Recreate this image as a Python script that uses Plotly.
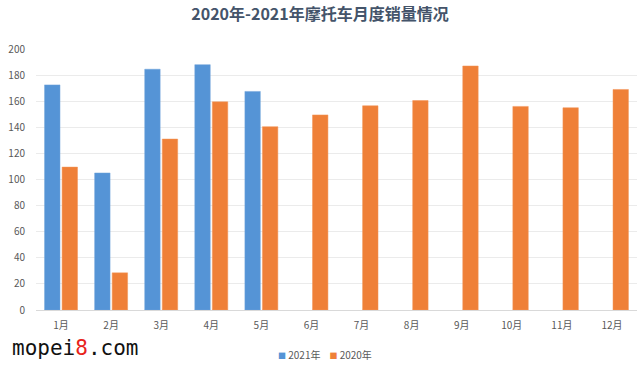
import plotly.graph_objects as go

months = ["1月", "2月", "3月", "4月", "5月", "6月", "7月", "8月", "9月", "10月", "11月", "12月"]
sales_2021 = [172.5, 105, 184.5, 188, 167.5, None, None, None, None, None, None, None]
sales_2020 = [109.5, 28.5, 131, 159.5, 140.5, 149.5, 156.5, 160.5, 187, 156, 155, 169]
y_ticks = [0, 20, 40, 60, 80, 100, 120, 140, 160, 180, 200]
series_names = ["2021年", "2020年"]
series_colors = ["#5594D6", "#EF8038"]

FONT = "Noto Sans CJK SC, Open Sans, sans-serif"

fig = go.Figure()
fig.add_trace(go.Bar(
    x=months, y=sales_2021, name=series_names[0],
    marker=dict(color=series_colors[0], line=dict(color="#6FA3DB", width=0.5)),
))
fig.add_trace(go.Bar(
    x=months, y=sales_2020, name=series_names[1],
    marker=dict(color=series_colors[1], line=dict(color="#F39459", width=0.5)),
))

fig.update_layout(
    width=640, height=368,
    margin=dict(l=36, r=3, t=49, b=58, autoexpand=False),
    paper_bgcolor="white", plot_bgcolor="white",
    barmode="group", bargap=0.3, bargroupgap=0.12,
    font=dict(family=FONT, size=10, color="#595959"),
    title=dict(text="<b>2020年-2021年摩托车月度销量情况</b>", x=0.5, xanchor="center",
               yref="container", y=0.96, yanchor="middle",
               font=dict(size=16, color="#44546A", family=FONT)),
    showlegend=False,
    xaxis=dict(showgrid=False, showline=True, linecolor="#D9D9D9", ticks="",
               automargin=False, ticklabelstandoff=6,
               tickfont=dict(size=10, color="#595959")),
    yaxis=dict(range=[0, 200], tickvals=y_ticks, showgrid=True, gridcolor="#EBEBEB",
               zeroline=False, showline=False, ticks="", ticklen=0, automargin=False,
               ticklabelstandoff=10, tickfont=dict(size=10, color="#595959")),
)

# legend drawn as text with coloured square markers
legend_text = "&nbsp;&nbsp;&nbsp;&nbsp;".join(
    f"<span style='color:{c}; font-size:8px'>■</span>&nbsp;{n}" for n, c in zip(series_names, series_colors)
)
fig.add_annotation(
    text=legend_text, xref="paper", yref="paper", x=0.481, y=-0.172,
    xanchor="center", yanchor="middle", showarrow=False,
    font=dict(family=FONT, size=10, color="#595959"),
)

fig.add_annotation(
    text="mopei<span style='color:#E8231B'>8</span>.com",
    xref="paper", yref="paper", x=-0.043, y=-0.146, xanchor="left", yanchor="middle",
    showarrow=False, font=dict(family="DejaVu Sans Mono", size=21, color="#111111"),
)

fig.write_html("out.html", post_script="document.body.style.margin='0';",
               config={"displayModeBar": False})
